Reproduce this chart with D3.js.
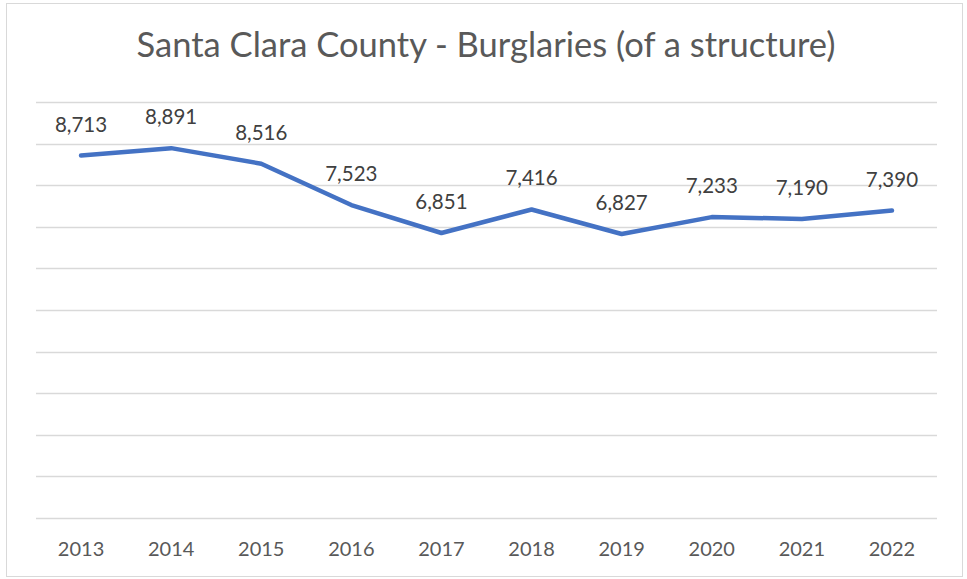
<!DOCTYPE html>
<html>
<head>
<meta charset="utf-8">
<script src="https://cdn.jsdelivr.net/npm/d3@7"></script>
<style>
  body { margin: 0; background: #fff; }
  text { font-family: Lato, "Open Sans", sans-serif; }
</style>
</head>
<body>
<svg id="chart" width="967" height="579"></svg>
<script>
const title = "Santa Clara County - Burglaries (of a structure)";
const years = ["2013", "2014", "2015", "2016", "2017", "2018", "2019", "2020", "2021", "2022"];
const burglaries = [8713, 8891, 8516, 7523, 6851, 7416, 6827, 7233, 7190, 7390];
const gridValues = d3.range(0, 10001, 1000);

const svg = d3.select("#chart");
const margin = { top: 102, right: 30, bottom: 61, left: 36 };
const width = 967 - margin.left - margin.right;
const height = 579 - margin.top - margin.bottom;

// outer frame
svg.append("rect")
    .attr("x", 6.5).attr("y", 3.5)
    .attr("width", 956).attr("height", 573)
    .attr("fill", "#fff")
    .attr("stroke", "#d9d9d9")
    .attr("stroke-width", 1);

// title, scaled to the reference width
const t = svg.append("text")
    .attr("x", 486)
    .attr("y", 57)
    .attr("text-anchor", "middle")
    .attr("fill", "#595959")
    .style("font-size", "30px")
    .text(title);
const tw = t.node().getComputedTextLength();
t.style("font-size", (30 * 699 / tw) + "px");

const chart = svg.append("g")
    .attr("transform", `translate(${margin.left},${margin.top})`);

// Scales
const x = d3.scaleBand().domain(years).range([0, width]);
const y = d3.scaleLinear().domain([0, 10000]).range([height, 0]);

// Gridlines
chart.selectAll(".grid")
    .data(gridValues)
    .enter().append("line")
    .attr("class", "grid")
    .attr("x1", 0).attr("x2", width)
    .attr("y1", d => Math.round(y(d)) + 0.5)
    .attr("y2", d => Math.round(y(d)) + 0.5)
    .attr("stroke", "#d9d9d9")
    .attr("stroke-width", 1.3);

// x axis labels
const xAxis = d3.axisBottom(x).tickSize(0).tickPadding(24);
chart.append("g")
    .attr("transform", `translate(0,${height})`)
    .call(xAxis)
    .call(g => g.select(".domain").remove())
    .selectAll("text")
    .attr("fill", "#595959")
    .style("font-size", "20px")
    .style("font-family", "Lato, 'Open Sans', sans-serif");

// Line
const line = d3.line()
    .x((d, i) => x(years[i]) + x.bandwidth() / 2)
    .y(d => y(d));

chart.append("path")
    .datum(burglaries)
    .attr("fill", "none")
    .attr("stroke", "#4472c4")
    .attr("stroke-width", 4.5)
    .attr("stroke-linejoin", "round")
    .attr("stroke-linecap", "round")
    .attr("d", line);

// Data labels
chart.selectAll(".label")
    .data(burglaries)
    .enter().append("text")
    .attr("class", "label")
    .attr("x", (d, i) => x(years[i]) + x.bandwidth() / 2)
    .attr("y", d => y(d) - 24)
    .attr("text-anchor", "middle")
    .attr("fill", "#404040")
    .style("font-size", "20.5px")
    .text(d => d3.format(",")(d));
</script>
</body>
</html>
